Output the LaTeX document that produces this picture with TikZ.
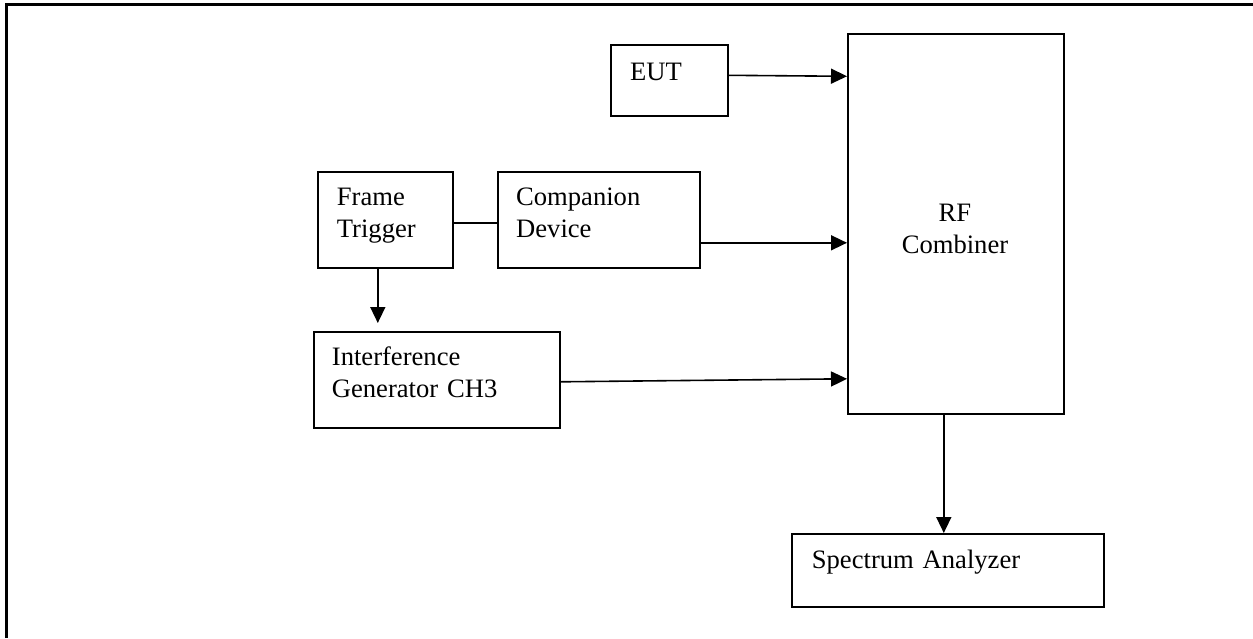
\documentclass[tikz,border=0pt]{standalone}
\usepackage{fontspec}
\setmainfont{Liberation Serif}
\usetikzlibrary{arrows.meta}
\begin{document}
\begin{tikzpicture}[x=1pt,y=1pt,
  box/.style={draw,line width=1.6pt,rectangle,inner sep=0pt,anchor=north west},
  lbl/.style={inner sep=0pt,anchor=base west,text width=300pt,align=left,font=\fontsize{26.6}{32}\selectfont},
  clbl/.style={inner sep=0pt,anchor=base,text width=200pt,align=center,font=\fontsize{26.6}{32}\selectfont},
  conn/.style={line width=1.6pt},
  arr/.style={line width=1.6pt,-{Triangle[length=16pt,width=15pt]}}]
\useasboundingbox (0,0) rectangle (1253,-638);
% outer frame
\draw[line width=2.5pt] (6.5,-638) -- (6.5,-4.5) -- (1253,-4.5);
% boxes
\node[box,minimum width=117pt,minimum height=71pt] (eut) at (610,-44) {};
\node[box,minimum width=216pt,minimum height=380pt] (rf) at (847,-33) {};
\node[box,minimum width=135pt,minimum height=96pt] (ft) at (317,-171) {};
\node[box,minimum width=202pt,minimum height=96pt] (cd) at (497,-171) {};
\node[box,minimum width=246pt,minimum height=96pt] (ig) at (313,-331) {};
\node[box,minimum width=312pt,minimum height=73pt] (sa) at (791,-533) {};
% texts
\node[lbl] (teut) at (630,-80) {EUT};
\node[clbl] (trf) at (955,-221.7) {RF\\Combiner};
\node[lbl] (tft) at (336.7,-205.7) {Frame\\Trigger};
\node[lbl] (tcd) at (516,-205.7) {Companion\\Device};
\node[lbl] (tig) at (331.7,-365) {Interference\\Generator CH3};
\node[lbl] (tsa) at (811.7,-568) {Spectrum Analyzer};
% connectors
\draw[arr] ([yshift=5pt]eut.east) -- ([yshift=4pt]rf.west |- eut.east);
\draw[conn] ([yshift=-3pt]ft.east) -- ([yshift=-3pt]cd.west);
\draw[arr] ([yshift=-23pt]cd.east) -- ([yshift=-23pt]rf.west |- cd.east);
\draw[arr,shorten >=8pt] ([xshift=-7.5pt]ft.south) -- ([xshift=-7.5pt]ft.south |- ig.north);
\draw[arr] ([yshift=-2pt]ig.east) -- ([yshift=1pt]rf.west |- ig.east);
\draw[arr] ([xshift=-12pt]rf.south) -- ([xshift=-12pt]rf.south |- sa.north);
\end{tikzpicture}
\end{document}
